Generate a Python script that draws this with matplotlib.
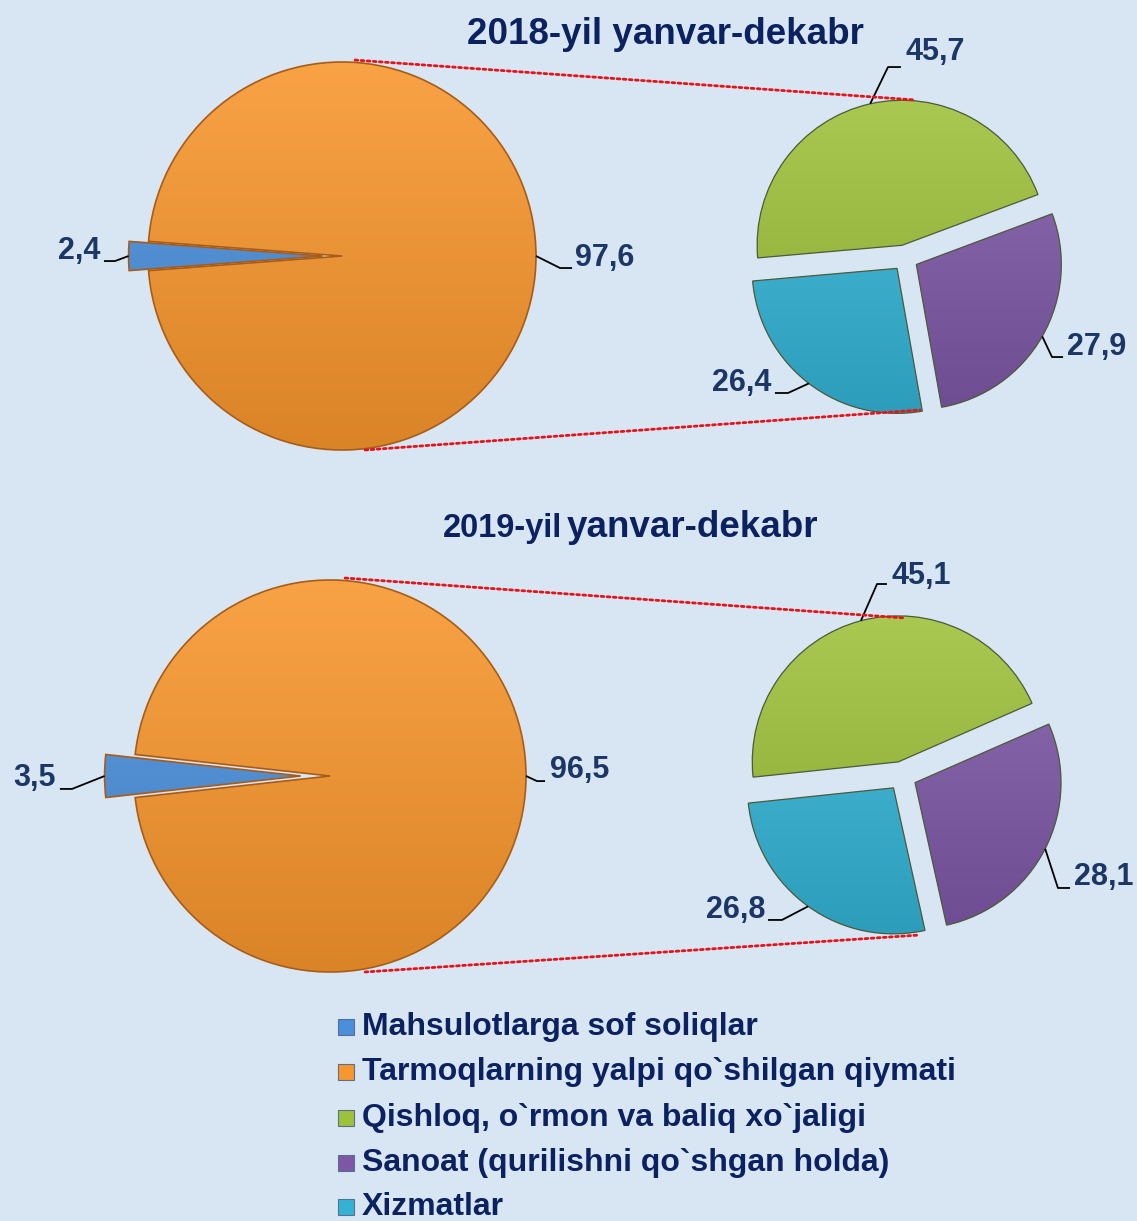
import numpy as np
import matplotlib
matplotlib.use("Agg")
import matplotlib.pyplot as plt
from matplotlib.patches import ConnectionPatch, Rectangle, Wedge
from matplotlib.colors import to_rgb

# ---------------- data ----------------
big_labels = ["Mahsulotlarga sof soliqlar", "Tarmoqlarning yalpi qo`shilgan qiymati"]
small_labels = ["Qishloq, o`rmon va baliq xo`jaligi", "Sanoat (qurilishni qo`shgan holda)", "Xizmatlar"]
big_2018 = [2.4, 97.6]
small_2018 = [45.7, 27.9, 26.4]
big_2019 = [3.5, 96.5]
small_2019 = [45.1, 28.1, 26.8]
titles = ["2018-yil yanvar-dekabr", ("2019-yil", "yanvar-dekabr")]

big_colors = ["#4a8fdc", "#f7962c"]
small_colors = ["#9dc13a", "#7d57a6", "#32b3d4"]
legend_colors = big_colors + small_colors
legend_labels = big_labels + small_labels

W, H = 1137, 1221
BG = "#d8e6f4"
VAL = "#1c3766"
NAVY = "#0b2160"
FONT = "Liberation Sans"

fig = plt.figure(figsize=(W / 100, H / 100), dpi=100, facecolor=BG)

def pie_axes(cx, cy, R, L=1.5):
    S = 2 * L * R
    ax = fig.add_axes([(cx - S / 2) / W, (H - cy - S / 2) / H, S / W, S / H])
    ax.set_xlim(-L, L)
    ax.set_ylim(-L, L)
    ax.set_aspect("equal")
    ax.axis("off")
    return ax

def fmt(v):
    return f"{v:.1f}".replace(".", ",")

def leader(ax, ang, expl, elbow, end, txt, ha, r=1.0):
    a = np.deg2rad(ang)
    sx, sy = (r + expl) * np.cos(a), (r + expl) * np.sin(a)
    ax.plot([sx, elbow[0], end[0]], [sy, elbow[1], end[1]], color="black", lw=1.3,
            clip_on=False, solid_capstyle="butt", zorder=5)
    ax.text(txt[0], txt[1], txt[2], ha=ha, va="center", fontsize=22, fontweight="bold",
            color=VAL, family=FONT, clip_on=False, zorder=6)

def mid_angles(vals, start):
    tot = sum(vals)
    out = []
    cur = start
    for v in vals:
        span = 360 * v / tot
        out.append(cur - span / 2)
        cur -= span
    return out

def shade(ax, wedges, colors, edge, lw):
    for w, c in zip(wedges, colors):
        rgb = np.array(to_rgb(c))
        t = np.linspace(0, 1, 256)[:, None, None]
        light = rgb + (1 - rgb) * 0.12
        dark = rgb * 0.88
        img = light * (1 - t) + dark * t
        cx, cy = w.center
        r = w.r
        im = ax.imshow(img, extent=(cx - r, cx + r, cy - r, cy + r), origin="upper",
                       aspect="auto", zorder=2, interpolation="bilinear")
        im.set_clip_path(w)
        ax.add_patch(Wedge(w.center, w.r, w.theta1, w.theta2, facecolor="none",
                           edgecolor=edge, linewidth=lw, zorder=3))
    ax.set_aspect("equal")
    ax.set_xlim(-1.5, 1.5); ax.set_ylim(-1.5, 1.5)

def draw_big(ax, vals, expl):
    start = 180 + 360 * vals[0] / sum(vals) / 2
    wedges, _ = ax.pie(vals, colors=big_colors, startangle=start, counterclock=False,
                       explode=[expl, 0], radius=1.0,
                       wedgeprops=dict(edgecolor="none", linewidth=0))
    shade(ax, wedges, big_colors, "#a85c18", 1.2)
    return mid_angles(vals, start)

def draw_small(ax, vals, start, expl):
    wedges, _ = ax.pie(vals, colors=small_colors, startangle=start, counterclock=False,
                       explode=[expl] * 3, radius=1.0,
                       wedgeprops=dict(edgecolor="none", linewidth=0))
    shade(ax, wedges, small_colors, "#4e5a3a", 0.9)
    return mid_angles(vals, start)

# ---------------- 2018 ----------------
axb1 = pie_axes(342, 256, 194)
m = draw_big(axb1, big_2018, 0.1)
leader(axb1, m[0], 0.1, (-1.17, -0.026), (-1.227, -0.026), (-1.247, 0.026, fmt(big_2018[0])), "right")
leader(axb1, m[1], 0.0, (1.124, -0.062), (1.186, -0.062), (1.201, -0.01, fmt(big_2018[1])), "left")

axs1 = pie_axes(905, 258, 145)
m = draw_small(axs1, small_2018, 185, 0.09)
leader(axs1, m[0], 0.09, (-0.117, 1.317), (-0.028, 1.317), (0.0, 1.42, fmt(small_2018[0])), "left")
leader(axs1, m[1], 0.09, (1.014, -0.683), (1.090, -0.683), (1.117, -0.614, fmt(small_2018[1])), "left")
leader(axs1, m[2], 0.09, (-0.807, -0.931), (-0.897, -0.931), (-0.924, -0.862, fmt(small_2018[2])), "right")

# ---------------- 2019 ----------------
axb2 = pie_axes(330, 776, 196)
m = draw_big(axb2, big_2019, 0.15)
leader(axb2, m[0], 0.15, (-1.316, -0.066), (-1.378, -0.066), (-1.398, -0.01, fmt(big_2019[0])), "right")
leader(axb2, m[1], 0.0, (1.056, -0.026), (1.097, -0.026), (1.122, 0.03, fmt(big_2019[1])), "left")

axs2 = pie_axes(902, 776, 146)
m = draw_small(axs2, small_2019, 186, 0.1)
leader(axs2, m[0], 0.1, (-0.171, 1.315), (-0.103, 1.315), (-0.075, 1.37, fmt(small_2019[0])), "left")
leader(axs2, m[1], 0.1, (1.068, -0.767), (1.151, -0.767), (1.178, -0.692, fmt(small_2019[1])), "left")
leader(axs2, m[2], 0.1, (-0.822, -0.986), (-0.918, -0.986), (-0.938, -0.918, fmt(small_2019[2])), "right")

# ---------------- connectors ----------------
def connect(axA, pA, axB, pB):
    cp = ConnectionPatch(xyA=pA, coordsA="data", axesA=axA, xyB=pB, coordsB="data", axesB=axB,
                         color="#e5141b", lw=2.0, linestyle=(0, (1, 1.2)))
    fig.add_artist(cp)

connect(axb1, (0.067, 1.01), axs1, (0.069, 1.09))
connect(axb1, (0.119, -1.0), axs1, (0.103, -1.048))
connect(axb2, (0.077, 1.01), axs2, (0.021, 1.082))
connect(axb2, (0.179, -1.0), axs2, (0.123, -1.089))

# ---------------- titles ----------------
fig.text(665 / W, 1 - 35 / H, titles[0], ha="center", va="center", fontsize=26.5,
         fontweight="bold", color=NAVY, family=FONT)
fig.text(562 / W, 1 - 537 / H, titles[1][0], ha="right", va="baseline", fontsize=23.5,
         fontweight="bold", color=NAVY, family=FONT)
fig.text(567 / W, 1 - 537 / H, titles[1][1], ha="left", va="baseline", fontsize=26.5,
         fontweight="bold", color=NAVY, family=FONT)

# ---------------- legend ----------------
ov = fig.add_axes([0, 0, 1, 1], facecolor="none")
ov.set_xlim(0, W); ov.set_ylim(H, 0); ov.axis("off")
rows = [1027, 1072, 1118, 1163, 1207]
for y, c, lab in zip(rows, legend_colors, legend_labels):
    ov.add_patch(Rectangle((338, y - 8), 16, 16, facecolor=c, edgecolor="#5a6f8f", lw=0.8))
    ov.text(362, y, lab, ha="left", va="center", fontsize=23, fontweight="bold",
            color=NAVY, family=FONT)

fig.savefig("out.png", dpi=100, facecolor=BG)
